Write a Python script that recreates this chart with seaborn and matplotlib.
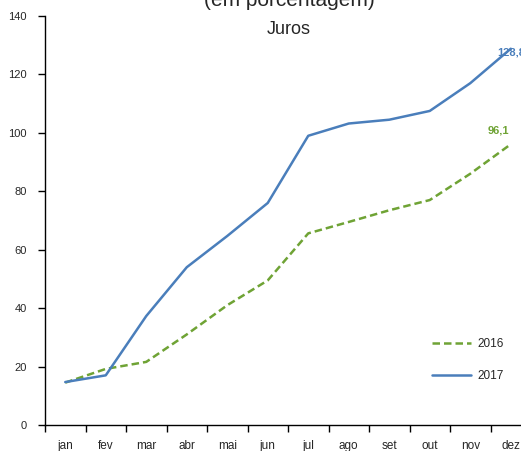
import matplotlib
matplotlib.use("Agg")
import matplotlib.pyplot as plt
import seaborn as sns
import pandas as pd
import numpy as np
from matplotlib.lines import Line2D

months = ["jan", "fev", "mar", "abr", "mai", "jun", "jul", "ago", "set", "out", "nov", "dez"]
juros_2016 = [14.5, 19.2, 21.6, 31.0, 41.0, 49.5, 65.6, 69.5, 73.5, 77.0, 86.0, 96.1]
juros_2017 = [14.7, 17.0, 37.3, 54.0, 64.7, 76.0, 99.0, 103.2, 104.5, 107.5, 117.0, 128.8]
series_names = ["2016", "2017"]
yticks = [0, 20, 40, 60, 80, 100, 120, 140]

sns.set_style("white")
plt.rcParams["font.family"] = ["Liberation Sans", "DejaVu Sans"]

blue = "#4A7EBB"
green = "#6FA335"

df = pd.DataFrame({
    "mes": months * 2,
    "idx": list(range(len(months))) * 2,
    "valor": juros_2016 + juros_2017,
    "ano": [series_names[0]] * len(months) + [series_names[1]] * len(months),
})

fig = plt.figure(figsize=(5.21, 4.51), dpi=100)
ax = fig.add_axes([45 / 521, 26 / 451, 486 / 521, 409 / 451])

sns.lineplot(data=df, x="idx", y="valor", hue="ano", style="ano",
             palette={"2016": green, "2017": blue},
             dashes={"2016": (3, 1.6), "2017": ""},
             linewidth=1.8, ax=ax, legend=False)

ax.set_xlim(-0.5, len(months) - 0.5)
ax.set_ylim(0, 140)
ax.set_yticks(yticks)
ax.set_yticklabels([str(v) for v in yticks], fontsize=8)
ax.set_xticks(np.arange(-0.5, len(months), 1.0))
ax.set_xticklabels([])
ax.set_xticks(np.arange(len(months)), minor=True)
ax.set_xticklabels(months, minor=True, fontsize=8.5)
ax.tick_params(axis="x", which="major", bottom=True, direction="out", length=5, width=1, color="black")
ax.tick_params(axis="x", which="minor", bottom=True, length=0, pad=11)
ax.tick_params(axis="y", which="major", left=True, direction="out", length=5, width=1, color="black", pad=8)
ax.set_xlabel("")
ax.set_ylabel("")
for s in ["top", "right"]:
    ax.spines[s].set_visible(False)
for s in ["left", "bottom"]:
    ax.spines[s].set_color("black")
    ax.spines[s].set_linewidth(1)

# data labels
ax.annotate(f"{juros_2017[-1]:.1f}".replace(".", ","), (11, juros_2017[-1]),
            xytext=(0, -3), textcoords="offset points", color=blue,
            fontsize=8, fontweight="bold", ha="center", va="center")
ax.annotate(f"{juros_2016[-1]:.1f}".replace(".", ","), (11, juros_2016[-1]),
            xytext=(-9, 10), textcoords="offset points", color=green,
            fontsize=8, fontweight="bold", ha="center", va="center")

# legend
handles = [Line2D([], [], color=green, lw=1.8, dashes=(3, 1.6)),
           Line2D([], [], color=blue, lw=1.8)]
ax.legend(handles, series_names, loc="center left", bbox_to_anchor=(0.775, 0.159),
          frameon=False, fontsize=8.5, handlelength=3.3, labelspacing=1.75,
          handletextpad=0.5)

fig.text(289 / 521, 1 - 30 / 451, "Juros", ha="center", va="center", fontsize=13)
fig.text(289 / 521, 1 - 1 / 451, "(em porcentagem)", ha="center", va="center", fontsize=15)

fig.savefig("out.png", dpi=100)
